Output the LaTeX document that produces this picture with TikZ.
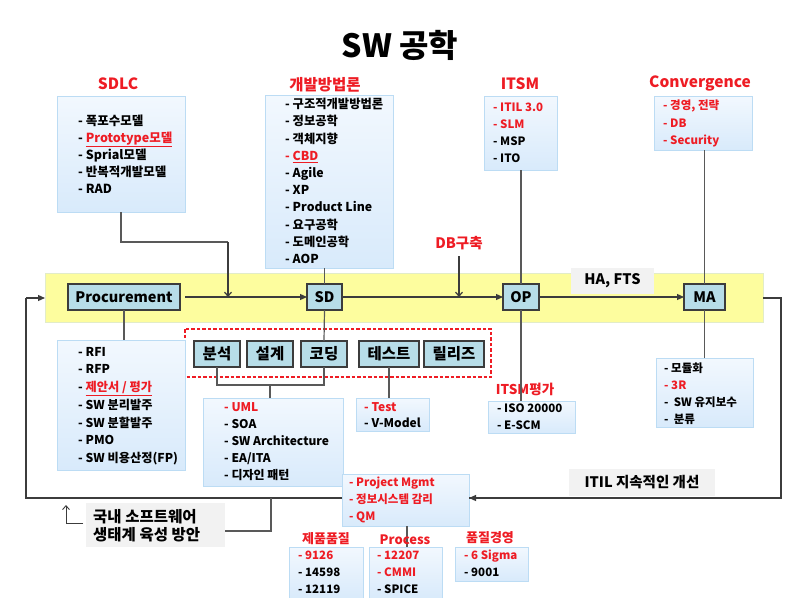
\documentclass[tikz,border=0pt]{standalone}
\usepackage{fontspec}
\setmainfont{Noto Sans CJK KR}
\usetikzlibrary{arrows.meta}
\definecolor{kred}{RGB}{238,28,36}
\definecolor{lbtop}{RGB}{242,248,254}
\definecolor{lbbot}{RGB}{216,234,251}
\definecolor{lbborder}{RGB}{188,220,244}
\definecolor{tealc}{RGB}{183,221,232}
\definecolor{yel}{RGB}{253,253,158}
\definecolor{yelb}{RGB}{226,236,200}
\definecolor{graybox}{RGB}{242,242,242}
\definecolor{lnc}{RGB}{60,60,60}
\newcommand{\redt}[1]{\textcolor{kred}{#1}}
\begin{document}
\begin{tikzpicture}[x=1pt,y=-1pt,
  lbox/.style={draw=lbborder,line width=0.8,top color=lbtop,bottom color=lbbot,anchor=north west,inner sep=0,outer sep=0},
  ltext/.style={anchor=west,align=left,inner sep=0,font=\bfseries\fontsize{12}{17}\selectfont},
  tbox/.style={draw=lnc,line width=1.2,fill=tealc,inner sep=0,outer sep=0,minimum height=26,font=\bfseries\fontsize{14.5}{16}\selectfont},
  kbox/.style={draw=lnc,line width=1.2,fill=tealc,inner sep=0,outer sep=0,minimum height=26,font=\bfseries\fontsize{15.5}{16}\selectfont},
  rlabel/.style={text=kred,inner sep=0,font=\bfseries\fontsize{15.5}{17}\selectfont},
  gbox/.style={fill=graybox,inner sep=0,outer sep=0,anchor=north west},
  conn/.style={draw=lnc!85,line width=1.2},
  mainl/.style={draw=lnc,line width=1.2},
  farrow/.style={-{Triangle[length=7,width=6]}},
  oarrow/.style={-{Straight Barb[length=4,width=7]}}
]
\useasboundingbox (0,0) rectangle (789,597);
\fill[white] (0,0) rectangle (789,597);

% title
\node[inner sep=0,font=\bfseries\fontsize{32}{34}\selectfont] (title) at (400,45) {SW 공학};

% yellow band
\node[draw=yelb,line width=0.8,fill=yel,anchor=north west,inner sep=0,outer sep=0,minimum width=718,minimum height=49] (band) at (45,273) {};
\node[gbox,minimum width=83,minimum height=26] (hafts) at (571,268) {};
\node[inner sep=0,font=\bfseries\fontsize{14.5}{16}\selectfont] at (hafts.center) {HA, FTS};

% main boxes
\node[tbox,minimum width=112] (proc) at (124,297) {Procurement};
\node[tbox,minimum width=35] (sd) at (324.5,297) {SD};
\node[tbox,minimum width=36] (op) at (521,297) {OP};
\node[tbox,minimum width=41] (ma) at (704.5,297) {MA};

% top labels and boxes
\node[rlabel] (sdlcl) at (118,84) {SDLC};
\node[lbox,minimum width=128,minimum height=116] (sdlc) at (57,96) {};
\node[ltext,font=\bfseries\fontsize{12.5}{17}\selectfont] (sdlct) at (78,154) {- 폭포수모델\\- \redt{\underline{Prototype모델}}\\- Sprial모델\\- 반복적개발모델\\- RAD};

\node[rlabel] (devl) at (325,85) {개발방법론};
\node[lbox,minimum width=128,minimum height=173] (dev) at (265,95) {};
\node[ltext,font=\bfseries\fontsize{12.3}{17.2}\selectfont] (devt) at (285,181) {- 구조적개발방법론\\- 정보공학\\- 객체지향\\\redt{- \underline{CBD}}\\- Agile\\- XP\\- Product Line\\- 요구공학\\- 도메인공학\\- AOP};

\node[rlabel] (itsml) at (520,84) {ITSM};
\node[lbox,minimum width=73,minimum height=74] (itsm) at (484,96) {};
\node[ltext,font=\bfseries\fontsize{11.5}{17}\selectfont] (itsmt) at (493,133) {\redt{- ITIL 3.0}\\\redt{- SLM}\\- MSP\\- ITO};

\node[rlabel] (convl) at (700,83) {Convergence};
\node[lbox,minimum width=98,minimum height=54] (conv) at (654,96) {};
\node[ltext,font=\bfseries\fontsize{11.5}{17.5}\selectfont] (convt) at (663,123.5) {\redt{- 경영, 전략}\\\redt{- DB}\\\redt{- Security}};

\node[rlabel,font=\bfseries\fontsize{14.5}{16}\selectfont] (dbl) at (459,243) {DB구축};
\coordinate (dbs) at (459,256);
\coordinate (dbe) at (459,297);

% dashed phase box
\draw[kred,dash pattern=on 3.5pt off 2pt,line width=1.3] (185,329) rectangle (491,377);
\node[kbox,minimum width=46] (bs) at (217,354) {분석};
\node[kbox,minimum width=46] (sg) at (270,354) {설계};
\node[kbox,minimum width=46] (cd) at (324,354) {코딩};
\node[kbox,minimum width=60] (ts) at (389,354) {테스트};
\node[kbox,minimum width=60] (rl) at (454,354) {릴리즈};

% lower lists
\node[lbox,minimum width=128,minimum height=130] (plist) at (57,340) {};
\node[ltext,font=\bfseries\fontsize{12.2}{17.7}\selectfont] (plistt) at (78,406) {- RFI\\- RFP\\- \redt{\underline{제안서 / 평가}}\\- SW 분리발주\\- SW 분할발주\\- PMO\\- SW 비용산정(FP)};

\node[lbox,minimum width=140,minimum height=88] (uml) at (203,398) {};
\node[ltext] (umlt) at (224,442) {\redt{- UML}\\- SOA\\- SW Architecture\\- EA/ITA\\- 디자인 패턴};

\node[lbox,minimum width=73,minimum height=33] (tst) at (356,398) {};
\node[ltext,font=\bfseries\fontsize{12}{16}\selectfont] (tstt) at (364,415) {\redt{- Test}\\- V-Model};

\node[rlabel,font=\bfseries\fontsize{13.5}{15}\selectfont] (isol) at (525,389) {ITSM평가};
\node[lbox,minimum width=87,minimum height=32] (iso) at (488,401) {};
\node[ltext,font=\bfseries\fontsize{11.5}{17}\selectfont] (isot) at (497,417) {- ISO 20000\\- E-SCM};

\node[lbox,minimum width=97,minimum height=69] (mab) at (656,358) {};
\node[ltext,font=\bfseries\fontsize{11.5}{17}\selectfont] (mabt) at (664,393.5) {- 모듈화\\\redt{- 3R}\\-\ \ SW 유지보수\\-\ \ 분류};

\node[lbox,minimum width=127,minimum height=52] (pm) at (342,474) {};
\node[ltext,font=\bfseries\fontsize{11.5}{17}\selectfont] (pmt) at (349,500) {\redt{- Project Mgmt}\\\redt{- 정보시스템 감리}\\\redt{- QM}};

\node[rlabel,font=\bfseries\fontsize{13}{14}\selectfont] (q1l) at (326,539) {제품품질};
\node[lbox,minimum width=74,minimum height=52] (q1) at (289,547) {};
\node[ltext,font=\bfseries\fontsize{11.5}{17}\selectfont] (q1t) at (298,572) {\redt{- 9126}\\- 14598\\- 12119};

\node[lbox,minimum width=73,minimum height=52] (q2) at (369,547) {};
\node[ltext,font=\bfseries\fontsize{11.5}{17}\selectfont] (q2t) at (377,572) {\redt{- 12207}\\\redt{- CMMI}\\- SPICE};

\node[rlabel,font=\bfseries\fontsize{13}{14}\selectfont] (q3l) at (490,538) {품질경영};
\node[lbox,minimum width=73,minimum height=34] (q3) at (455,547) {};
\node[ltext,font=\bfseries\fontsize{11.5}{17}\selectfont] (q3t) at (464,563.5) {\redt{- 6 Sigma}\\- 9001};

% gray note boxes
\node[gbox,minimum width=139,minimum height=44] (gk) at (86,503) {};
\node[anchor=west,align=left,inner sep=0,font=\bfseries\fontsize{15.5}{18}\selectfont] (gkt) at (93,526) {국내 소프트웨어\\생태계 육성 방안};
\node[gbox,minimum width=146,minimum height=27] (itil) at (569,469) {};
\node[inner sep=0,font=\bfseries\fontsize{14.5}{16}\selectfont] at (itil.center) {ITIL 지속적인 개선};

% connectors
\coordinate (j1) at (228,297);
\draw[conn] (sdlc.south -| 121,0) -- (121,242) -- (228,242);
\draw[mainl,oarrow] (228,242) -- (j1);
\draw[conn] (sd.north |- dev.south) -- (sd.north);
\draw[conn] (op.north |- itsm.south) -- (op.north);
\draw[conn] (ma.north |- conv.south) -- (ma.north);
\draw[mainl,farrow,shorten <=5] (proc.east) -- (sd.west);
\draw[mainl,farrow] (sd.east) -- (op.west);
\draw[mainl,farrow] (op.east) -- (ma.west);
\draw[mainl,oarrow] (dbs) -- (dbe);

\draw[conn] (proc.south) -- (proc.south |- plist.north);
\draw[conn] (sd.south) -- (cd.north);
\draw[conn] (bs.south) -- (217,385) -- (324,385) -- (cd.south);
\draw[conn] (270,385) -- (uml.north -| 270,0);
\draw[conn] (ts.south) -- (ts.south |- tst.north);
\draw[conn] (op.south) -- (op.south |- iso.north);
\draw[conn] (ma.south) -- (ma.south |- mab.north);
\draw[conn] (pm.south -| 407,0) -- (407,547);

% feedback loop
\draw[mainl] (band.east |- 0,298) -- (781,298) -- (781,498) -- (pm.east |- 0,498) ;
\draw[mainl,farrow] (781,498) -- (pm.east |- 0,498);
\draw[mainl] (pm.west |- 0,498) -- (26,498) -- (26,298);
\draw[mainl,farrow] (26,298) -- (band.west |- 0,298);
\draw[conn] (271,498) -- (271,531) -- (gk.east |- 0,531);
\draw[mainl,line width=0.9] (83,523) -- (66,523);
\draw[mainl,line width=0.9,oarrow] (66,523) -- (66,505);

% label over the line
\node[rlabel,font=\bfseries\fontsize{13}{14}\selectfont] at (405,540) {Process};
\end{tikzpicture}
\end{document}
